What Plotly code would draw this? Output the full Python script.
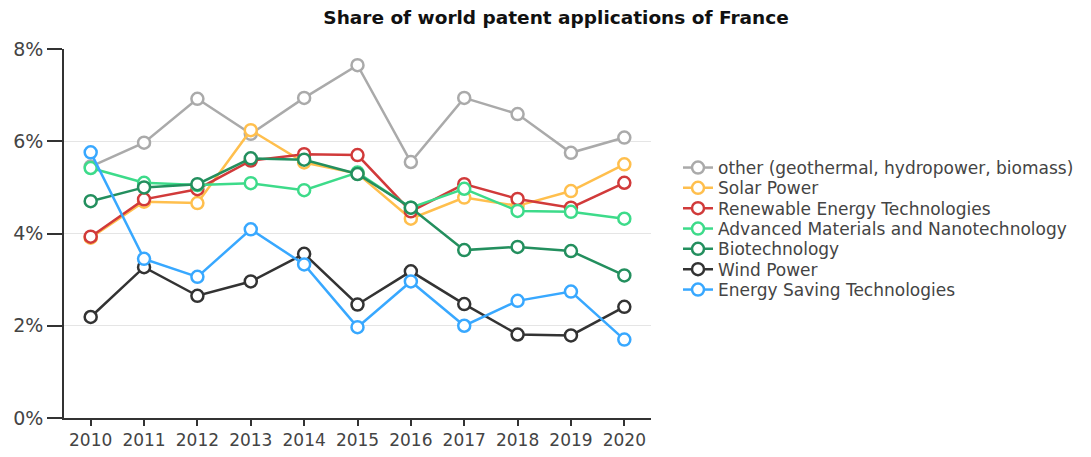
import plotly.graph_objects as go

years = [2010, 2011, 2012, 2013, 2014, 2015, 2016, 2017, 2018, 2019, 2020]

other = [5.45, 5.97, 6.92, 6.16, 6.94, 7.65, 5.55, 6.94, 6.59, 5.75, 6.08]
solar = [3.91, 4.69, 4.66, 6.24, 5.54, 5.30, 4.32, 4.78, 4.60, 4.92, 5.50]
renewable = [3.93, 4.74, 4.96, 5.58, 5.72, 5.70, 4.48, 5.07, 4.75, 4.56, 5.10]
advanced = [5.42, 5.10, 5.05, 5.09, 4.94, 5.32, 4.56, 4.97, 4.49, 4.47, 4.32]
biotech = [4.70, 5.00, 5.07, 5.63, 5.60, 5.29, 4.56, 3.64, 3.71, 3.62, 3.09]
wind = [2.19, 3.27, 2.65, 2.96, 3.56, 2.46, 3.18, 2.47, 1.81, 1.79, 2.41]
saving = [5.76, 3.45, 3.06, 4.09, 3.33, 1.97, 2.96, 2.00, 2.54, 2.74, 1.70]

series = [
    ("other (geothermal, hydropower, biomass)", other, "#aaaaaa"),
    ("Solar Power", solar, "#ffbf4d"),
    ("Renewable Energy Technologies", renewable, "#d13a3a"),
    ("Advanced Materials and Nanotechnology", advanced, "#3ddb8a"),
    ("Biotechnology", biotech, "#238f5e"),
    ("Wind Power", wind, "#333333"),
    ("Energy Saving Technologies", saving, "#38a8ff"),
]

font_family = "DejaVu Sans, Verdana, sans-serif"

# plot area in screen pixels (page body has an 8px margin)
plot_top, plot_bottom = 49, 418
legend_centers_px = [168, 188.3, 208.6, 229, 249.3, 269.6, 290]

fig = go.Figure()
layout_legends = {}
for i, (name, vals, col) in enumerate(series):
    lname = "legend" if i == 0 else f"legend{i + 1}"
    fig.add_trace(go.Scatter(
        x=years, y=vals, name=name, mode="lines+markers",
        legend=lname,
        line=dict(color=col, width=2.5),
        marker=dict(symbol="circle", size=12, color="white",
                    line=dict(color=col, width=2.5)),
    ))
    ypaper = (plot_bottom - legend_centers_px[i]) / (plot_bottom - plot_top)
    layout_legends[lname] = dict(
        x=1.046, xanchor="left", y=ypaper, yanchor="middle",
        font=dict(family=font_family, size=17, color="#444444"),
        bgcolor="rgba(0,0,0,0)", borderwidth=0, itemwidth=30,
    )

fig.update_layout(
    width=1084, height=449,
    margin=dict(l=56, r=441, t=41, b=39, autoexpand=False),
    paper_bgcolor="white", plot_bgcolor="white",
    font=dict(family=font_family, size=15, color="#444444"),
    title=dict(text="<b>Share of world patent applications of France</b>",
               x=548 / 1084, xref="container", xanchor="center",
               y=1 - 3 / 449, yref="container", yanchor="top",
               font=dict(family=font_family, size=18.5, color="#111111")),
    showlegend=True,
    xaxis=dict(range=[2009.5, 2020.5], tickmode="array", tickvals=years,
               ticktext=[str(y) for y in years], showgrid=False, zeroline=False,
               showline=True, linecolor="#333333", linewidth=1.5, automargin=False,
               ticks="outside", ticklen=6, tickcolor="#333333", tickwidth=1.5,
               tickfont=dict(size=17, color="#444444")),
    yaxis=dict(range=[0, 8], tickvals=[0, 2, 4, 6, 8],
               ticktext=["0%", "2%", "4%", "6%", "8%"], automargin=False,
               showgrid=True, gridcolor="#e5e5e5", gridwidth=1, zeroline=False,
               showline=True, linecolor="#333333", linewidth=1.5,
               ticks="outside", ticklen=15, tickcolor="#333333", tickwidth=1.5,
               tickfont=dict(size=19, color="#444444")),
    **layout_legends,
)

fig.write_html("out.html")
